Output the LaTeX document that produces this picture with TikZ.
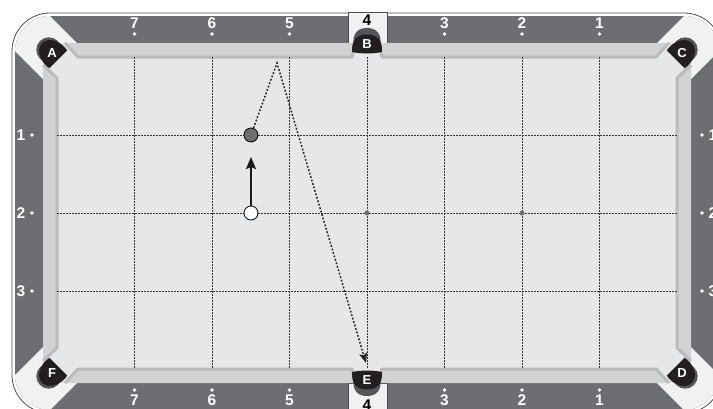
\documentclass[tikz,border=0pt]{standalone}
\usepackage{fontspec}
\setmainfont{Liberation Sans}
\usetikzlibrary{arrows.meta}
\definecolor{railc}{RGB}{109,110,113}
\definecolor{clothc}{RGB}{230,231,232}
\definecolor{cushc}{RGB}{209,210,212}
\definecolor{edgec}{RGB}{186,187,189}
\definecolor{palec}{RGB}{241,241,242}
\definecolor{pockc}{RGB}{35,31,32}
\definecolor{ringc}{RGB}{84,85,88}

% corner pocket: position, angle towards the cloth, letter
\newcommand\cornerpocket[3]{%
  \begin{scope}[shift={#1}, rotate=#2]
    \fill[ringc] (-4.5,0) circle (12.5);
    \fill[pockc] (9,12.5) .. controls (0,15) and (-14,10) .. (-14,0)
      .. controls (-14,-10) and (0,-15) .. (9,-12.5) -- cycle;
  \end{scope}
  \node[pockn] (#3) at #1 {#3};}
% side pocket
\newcommand\sidepocket[3]{%
  \begin{scope}[shift={#1}, rotate=#2]
    \fill[ringc] (1,13.5) .. controls (-10,14.5) and (-16,10) .. (-16,0)
      .. controls (-16,-10) and (-10,-14.5) .. (1,-13.5) -- cycle;
    \fill[pockc] (8,15) .. controls (-3,15.5) and (-9.5,11) .. (-9.5,0)
      .. controls (-9.5,-11) and (-3,-15.5) .. (8,-15)
      .. controls (10,-5) and (10,5) .. (8,15) -- cycle;
  \end{scope}
  \node[pockn] (#3) at #1 {#3};}
\newcommand\cushion[1]{\fill[cushc] #1 -- cycle; \draw[cushedge] #1;}

\begin{document}
\begin{tikzpicture}[
        x=1pt, y=-1pt,
        numn/.style={text=white, font=\bfseries\fontsize{15.5}{16}\selectfont, inner sep=0pt},
        midn/.style={text=black, font=\bfseries\fontsize{15.5}{16}\selectfont, inner sep=0pt},
        pockn/.style={text=white, font=\bfseries\fontsize{13}{13}\selectfont, inner sep=0pt},
        ballo/.style={circle, draw=black, line width=0.8pt, minimum size=14pt, inner sep=0pt, fill=railc},
        ballc/.style={ballo, fill=white},
        spotn/.style={circle, fill=railc, minimum size=5pt, inner sep=0pt},
        gridl/.style={black!80, line width=0.7pt, dash pattern=on 1.5pt off 1.5pt},
        shotl/.style={black!85, line width=1.5pt, dash pattern=on 1.8pt off 1.8pt},
        cushedge/.style={edgec, line width=3pt, line join=round},
    ]
    \useasboundingbox (0,0) rectangle (713,408);
    \clip (0,0) rectangle (713,408);

    % table frame and rails
    \fill[railc, rounded corners=35pt] (15,16) rectangle (719,410);
    \begin{scope}
        \clip[rounded corners=35pt] (15,16) rectangle (719,410);
        \foreach \sx/\sy in {1/1,-1/1,1/-1,-1/-1}
            \fill[palec, shift={(367,213)}, xscale=\sx, yscale=\sy]
                (-290,-170) -- (-347,-227) -- (-383,-193) -- (-324,-134) -- (-324,-170) -- cycle;
    \end{scope}
    \draw[black!70, line width=0.8pt, rounded corners=38pt] (12,13) rectangle (722,413);
    \draw[black!70, fill=palec, line width=0.6pt] (348,12) rectangle (387,43);
    \draw[black!70, fill=palec, line width=0.6pt] (348,383) rectangle (387,414);

    % cloth and cushions
    \fill[clothc] (43,43) rectangle (691,383);
    \cushion{(65,43) -- (78,57) -- (352,57) -- (356,43)}
    \cushion{(378,43) -- (382,57) -- (656,57) -- (669,43)}
    \cushion{(65,383) -- (78,369) -- (352,369) -- (356,383)}
    \cushion{(378,383) -- (382,369) -- (656,369) -- (669,383)}
    \cushion{(43,65) -- (57,78) -- (57,348) -- (43,361)}
    \cushion{(691,65) -- (677,78) -- (677,348) -- (691,361)}

    % grid
    \foreach \i in {1,...,7}
        \draw[gridl] ({57+77.5*\i},57) -- ({57+77.5*\i},369);
    \foreach \j in {1,2,3}
        \draw[gridl] (57,{57+78*\j}) -- (677,{57+78*\j});

    % diamonds
    \foreach \i in {1,2,3,5,6,7} {
        \pgfmathtruncatemacro\n{8-\i}
        \node[numn] (top\i) at ({57+77.5*\i},23) {\n};
        \fill[white] ({57+77.5*\i},34) circle (1.9);
        \node[numn] (bot\i) at ({57+77.5*\i},400) {\n};
        \fill[white] ({57+77.5*\i},390) circle (1.9);
    }
    \foreach \j in {1,2,3} {
        \node[numn] (left\j) at (21,{57+78*\j}) {\j};
        \fill[white] (32,{57+78*\j}) circle (1.9);
        \node[numn] (right\j) at (713,{57+78*\j}) {\j};
        \fill[white] (702,{57+78*\j}) circle (1.9);
    }
    \node[midn] (top4) at (367,20) {4};
    \node[midn] (bot4) at (367,405) {4};

    % pockets
    \cornerpocket{(52,53)}{-45}{A}
    \cornerpocket{(682,53)}{-135}{C}
    \cornerpocket{(682,373)}{135}{D}
    \cornerpocket{(52,373)}{45}{F}
    \sidepocket{(367,44)}{-90}{B}
    \sidepocket{(367,380)}{90}{E}

    % spots and balls
    \node[spotn] (foot) at (367,213) {};
    \node[spotn] (head) at (522,213) {};
    \node[ballo] (obj) at (251,135) {};
    \node[ballc] (cue) at (251,213) {};
    \coordinate (aim) at (251,157);
    \coordinate (kiss) at (277,63);
    \coordinate (goal) at (366,363);
    \draw[-{Stealth[length=12pt, width=10pt, inset=2pt]}, line width=1.5pt, black!90] (cue) -- (aim);
    \draw[shotl, -{Stealth[length=10pt, width=8pt, inset=2pt]}] (obj) -- (kiss) -- (goal);
\end{tikzpicture}
\end{document}
